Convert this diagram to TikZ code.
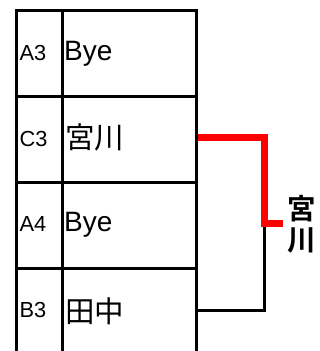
\documentclass[tikz,border=0pt]{standalone}
\usepackage{fontspec}
\setmainfont{Liberation Sans}
\newfontfamily\jpfont{Noto Sans CJK JP}
\newfontfamily\jpbold{Noto Sans CJK JP Bold}
\begin{document}
\begin{tikzpicture}[x=1pt,y=-1pt,
  cellbox/.style={draw=black,line width=3pt,minimum height=86.1pt,inner sep=0pt,anchor=north west},
  lblcell/.style={cellbox,minimum width=45.5pt},
  namecell/.style={cellbox,minimum width=134pt},
  lbltext/.style={anchor=base west,inner sep=0pt,font=\fontsize{21.8}{21.8}\selectfont},
  nametext/.style={anchor=base west,inner sep=0pt,font=\fontsize{28}{28}\selectfont},
  jptext/.style={anchor=west,inner sep=0pt,font=\jpfont\fontsize{29.5}{29.5}\selectfont},
  winline/.style={draw=red,line width=6.7pt,line join=miter,line cap=butt},
  loseline/.style={draw=black,line width=3pt,line join=miter}]
\useasboundingbox (0,0) rectangle (320,351);
\clip (0,0) rectangle (320,351);
% table cells
\node[lblcell]  (l1) at (15,8.7) {};
\node[namecell] (n1) at (60.5,8.7) {};
\node[lblcell]  (l2) at (15,94.8) {};
\node[namecell] (n2) at (60.5,94.8) {};
\node[lblcell]  (l3) at (15,180.9) {};
\node[namecell] (n3) at (60.5,180.9) {};
\node[lblcell]  (l4) at (15,267) {};
\node[namecell] (n4) at (60.5,267) {};
% texts
\node[lbltext] (t1) at (19.5,60) {A3};
\node[nametext] (u1) at (64,60) {Bye};
\node[lbltext] (t2) at (19.5,146.5) {C3};
\node[jptext] (u2) at (65,137.5) {宮川};
\node[lbltext] (t3) at (19.5,231.8) {A4};
\node[nametext] (u3) at (64,231.8) {Bye};
\node[lbltext] (t4) at (19.5,317) {B3};
\node[jptext] (u4) at (65,311.5) {田中};
% bracket
\coordinate (wtop) at (264.5,137.3);
\coordinate (wmid) at (264.5,223.3);
\coordinate (lbot) at (264.5,310);
\node[inner sep=0pt,align=center,font=\jpbold\fontsize{28.5}{31}\selectfont] (win) at (301.5,224) {宮\\川};
\draw[loseline] (n4.east |- lbot) -- (lbot) -- (264.5,226.6);
\draw[winline] (n2.east |- wtop) -- (wtop) -- (wmid) -- (283,223.3);
\end{tikzpicture}
\end{document}
